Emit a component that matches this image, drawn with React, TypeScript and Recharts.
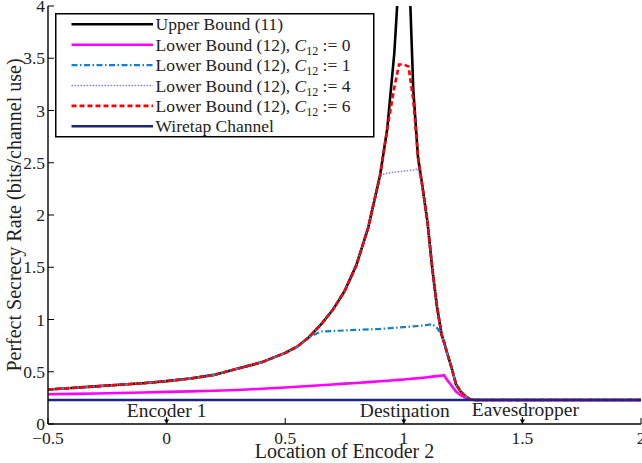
import React from 'react';
import { LineChart, Line, XAxis, YAxis, Legend, ReferenceDot, Label } from 'recharts';

const FONT = '"Liberation Serif", "DejaVu Serif", "Times New Roman", serif';

// Location of Encoder 2
const locations = [-0.5, -0.4, -0.3, -0.2, -0.1, 0, 0.1, 0.2, 0.3, 0.4, 0.5, 0.55, 0.6, 0.65, 0.7, 0.75, 0.8, 0.85, 0.9, 0.93, 0.96, 0.98, 1.0, 1.02, 1.04, 1.06, 1.08, 1.1, 1.12, 1.14, 1.16, 1.17, 1.18, 1.2, 1.22, 1.24, 1.26, 1.28, 1.3, 1.5, 2.0];

const upperBound = [0.33, 0.345, 0.36, 0.375, 0.39, 0.41, 0.435, 0.47, 0.53, 0.59, 0.68, 0.74, 0.83, 0.95, 1.09, 1.27, 1.52, 1.88, 2.38, 2.82, 3.55, 4.3, 6.0, 4.5, 3.2, 2.55, 2.25, 1.93, 1.49, 1.12, 0.85, 0.78, 0.7, 0.55, 0.38, 0.31, 0.265, 0.235, 0.23, 0.23, 0.23];

const lowerC0 = [0.284, 0.288, 0.292, 0.297, 0.302, 0.307, 0.312, 0.318, 0.325, 0.337, 0.35, 0.357, 0.364, 0.371, 0.378, 0.386, 0.393, 0.401, 0.409, 0.414, 0.419, 0.422, 0.426, 0.43, 0.434, 0.438, 0.443, 0.448, 0.453, 0.458, 0.463, 0.466, 0.43, 0.37, 0.31, 0.275, 0.25, 0.235, 0.23, 0.23, 0.23];

const lowerC1 = [0.33, 0.345, 0.36, 0.375, 0.39, 0.41, 0.435, 0.47, 0.53, 0.59, 0.68, 0.74, 0.83, 0.885, 0.89, 0.895, 0.9, 0.905, 0.91, 0.915, 0.92, 0.923, 0.927, 0.93, 0.934, 0.938, 0.943, 0.948, 0.955, 0.92, 0.85, 0.78, 0.7, 0.55, 0.38, 0.31, 0.265, 0.235, 0.23, 0.23, 0.23];

const lowerC4 = [0.33, 0.345, 0.36, 0.375, 0.39, 0.41, 0.435, 0.47, 0.53, 0.59, 0.68, 0.74, 0.83, 0.95, 1.09, 1.27, 1.52, 1.88, 2.38, 2.4, 2.41, 2.415, 2.42, 2.425, 2.43, 2.44, 2.25, 1.93, 1.49, 1.12, 0.85, 0.78, 0.7, 0.55, 0.38, 0.31, 0.265, 0.235, 0.23, 0.23, 0.23];

const lowerC6 = [0.33, 0.345, 0.36, 0.375, 0.39, 0.41, 0.435, 0.47, 0.53, 0.59, 0.68, 0.74, 0.83, 0.95, 1.09, 1.27, 1.52, 1.88, 2.38, 2.82, 3.22, 3.44, 3.44, 3.42, 3.1, 2.55, 2.25, 1.93, 1.49, 1.12, 0.85, 0.78, 0.7, 0.55, 0.38, 0.31, 0.265, 0.235, 0.23, 0.23, 0.23];

const wiretap = [0.23, 0.23, 0.23, 0.23, 0.23, 0.23, 0.23, 0.23, 0.23, 0.23, 0.23, 0.23, 0.23, 0.23, 0.23, 0.23, 0.23, 0.23, 0.23, 0.23, 0.23, 0.23, 0.23, 0.23, 0.23, 0.23, 0.23, 0.23, 0.23, 0.23, 0.23, 0.23, 0.23, 0.23, 0.23, 0.23, 0.23, 0.23, 0.23, 0.23, 0.23];

const xTicks = [-0.5, 0, 0.5, 1, 1.5, 2];
const xTickLabels = ['\u22120.5', '0', '0.5', '1', '1.5', '2'];
const yTicks = [0, 0.5, 1, 1.5, 2, 2.5, 3, 3.5, 4];
const yTickLabels = ['0', '0.5', '1', '1.5', '2', '2.5', '3', '3.5', '4'];

const nodeNames = ['Encoder 1', 'Destination', 'Eavesdropper'];
const nodeLocations = [0, 1, 1.5];

const seriesKeys = ['upper', 'c0', 'c1', 'c4', 'c6', 'wiretap'];
const seriesBase = ['Upper Bound (11)', 'Lower Bound (12), ', 'Lower Bound (12), ', 'Lower Bound (12), ', 'Lower Bound (12), ', 'Wiretap Channel'];
const seriesC = [null, '0', '1', '4', '6', null];

const STYLE: Record<string, { color: string; width: number; dash?: string }> = {
  upper: { color: '#000000', width: 2.6 },
  c0: { color: '#ff00ff', width: 2.6 },
  c1: { color: '#1480c8', width: 2.2, dash: '6 2.5 1.5 2.5' },
  c4: { color: '#8080ff', width: 1.5, dash: '1.5 1.5' },
  c6: { color: '#ff0000', width: 2.6, dash: '5 3' },
  wiretap: { color: '#1c2583', width: 2.6 },
};

const data = locations.map((x, i) => ({
  x,
  upper: upperBound[i],
  c0: lowerC0[i],
  c1: lowerC1[i],
  c4: lowerC4[i],
  c6: lowerC6[i],
  wiretap: wiretap[i],
}));

const BottomTick = (p: any) => {
  const { x, y, payload } = p;
  const idx = xTicks.indexOf(payload.value);
  return (
    <g>
      <line x1={x} y1={y} x2={x} y2={y - 6} stroke="#000" strokeWidth={1} />
      <text x={x} y={y + 20} textAnchor="middle" fontFamily={FONT} fontSize={17.5} fill="#222">
        {xTickLabels[idx]}
      </text>
    </g>
  );
};

const TopTick = (p: any) => {
  const { x, y } = p;
  return <line x1={x} y1={y} x2={x} y2={y + 6} stroke="#000" strokeWidth={1} />;
};

const LeftTick = (p: any) => {
  const { x, y, payload } = p;
  const idx = yTicks.indexOf(payload.value);
  return (
    <g>
      <line x1={x} y1={y} x2={x + 6} y2={y} stroke="#000" strokeWidth={1} />
      <text x={x - 3} y={y} dy="0.35em" textAnchor="end" fontFamily={FONT} fontSize={17.5} fill="#222">
        {yTickLabels[idx]}
      </text>
    </g>
  );
};

const RightTick = (p: any) => {
  const { x, y } = p;
  return <line x1={x} y1={y} x2={x - 6} y2={y} stroke="#000" strokeWidth={1} />;
};

const renderLegend = () => (
  <svg width={320} height={125} style={{ display: 'block' }}>
    <rect x={0.75} y={0.75} width={318} height={123} fill="#fff" stroke="#000" strokeWidth={1.5} />
    {seriesKeys.map((k, i) => {
      const cy = 11.3 + i * 20.4;
      const st = STYLE[k];
      return (
        <g key={k}>
          <line x1={16.5} x2={98} y1={cy} y2={cy} stroke={st.color} strokeWidth={st.width} strokeDasharray={st.dash} />
          <text x={100.5} y={cy + 6} fontFamily={FONT} fontSize={17.5} fill="#222">
            {seriesBase[i]}
            {seriesC[i] !== null && (
              <>
                <tspan fontStyle="italic">C</tspan>
                <tspan fontSize={12} dy={4}>12</tspan>
                <tspan dy={-4}>{' := ' + seriesC[i]}</tspan>
              </>
            )}
          </text>
        </g>
      );
    })}
  </svg>
);

const renderNode = (props: any, i: number) => {
  const { cx, cy } = props;
  const name = nodeNames[i];
  const dx = i === 2 ? 3 : i === 1 ? 1 : 0;
  const ty = i === 2 ? cy - 8.5 : cy - 7.5;
  return (
    <g>
      <line x1={cx} y1={cy - 7} x2={cx} y2={cy - 3} stroke="#000" strokeWidth={1} />
      <polygon points={`${cx - 2.5},${cy - 4.5} ${cx + 2.5},${cy - 4.5} ${cx},${cy}`} fill="#000" />
      <text x={cx + dx} y={ty} textAnchor="middle" fontFamily={FONT} fontSize={19.5} fill="#222">
        {name}
      </text>
    </g>
  );
};

export default function App() {
  return (
    <div style={{ position: 'absolute', left: 0, top: 0, width: 642, height: 463, background: '#fff' }}>
      <LineChart width={642} height={463} data={data} margin={{ top: 6, right: 1, bottom: 0, left: 8 }}>
        <XAxis
          dataKey="x"
          type="number"
          domain={[-0.5, 2]}
          ticks={xTicks}
          interval={0}
          height={39}
          tickSize={0}
          tickMargin={0}
          tickLine={false}
          tick={<BottomTick />}
          axisLine={{ stroke: '#000', strokeWidth: 1.4 }}
          label={
            <Label
              content={(p: any) => {
                const vb = p.viewBox;
                return (
                  <text x={vb.x + vb.width / 2} y={458} textAnchor="middle" fontFamily={FONT} fontSize={20} fill="#222">
                    Location of Encoder 2
                  </text>
                );
              }}
            />
          }
        />
        <XAxis
          xAxisId="top"
          orientation="top"
          type="number"
          domain={[-0.5, 2]}
          ticks={xTicks}
          interval={0}
          height={0}
          tickSize={0}
          tickMargin={0}
          tickLine={false}
          tick={<TopTick />}
          axisLine={{ stroke: '#000', strokeWidth: 1.4 }}
        />
        <YAxis
          type="number"
          domain={[0, 4]}
          ticks={yTicks}
          interval={0}
          allowDataOverflow
          width={40}
          tickSize={0}
          tickMargin={0}
          tickLine={false}
          tick={<LeftTick />}
          axisLine={{ stroke: '#000', strokeWidth: 1.4 }}
          label={
            <Label
              content={(p: any) => {
                const vb = p.viewBox;
                const cy = vb.y + vb.height / 2;
                return (
                  <text
                    transform={`translate(21, ${cy}) rotate(-90)`}
                    textAnchor="middle"
                    fontFamily={FONT}
                    fontSize={20}
                    fill="#222"
                  >
                    Perfect Secrecy Rate (bits/channel use)
                  </text>
                );
              }}
            />
          }
        />
        <YAxis
          yAxisId="right"
          orientation="right"
          type="number"
          domain={[0, 4]}
          ticks={yTicks}
          interval={0}
          width={0}
          tickSize={0}
          tickMargin={0}
          tickLine={false}
          tick={<RightTick />}
          axisLine={{ stroke: '#000', strokeWidth: 1.4 }}
        />
        <Legend
          layout="horizontal"
          verticalAlign="middle"
          align="center"
          content={renderLegend}
          wrapperStyle={{ position: 'absolute', left: 55, top: 13, width: 320, height: 125 }}
        />
        {seriesKeys.map((k) => (
          <Line
            key={k}
            type="linear"
            dataKey={k}
            stroke={STYLE[k].color}
            strokeWidth={STYLE[k].width}
            strokeDasharray={STYLE[k].dash}
            dot={false}
            activeDot={false}
            isAnimationActive={false}
          />
        ))}
        {nodeLocations.map((loc, i) => (
          <ReferenceDot key={nodeNames[i]} x={loc} y={0} r={0} shape={(p: any) => renderNode(p, i)} />
        ))}
      </LineChart>
    </div>
  );
}
